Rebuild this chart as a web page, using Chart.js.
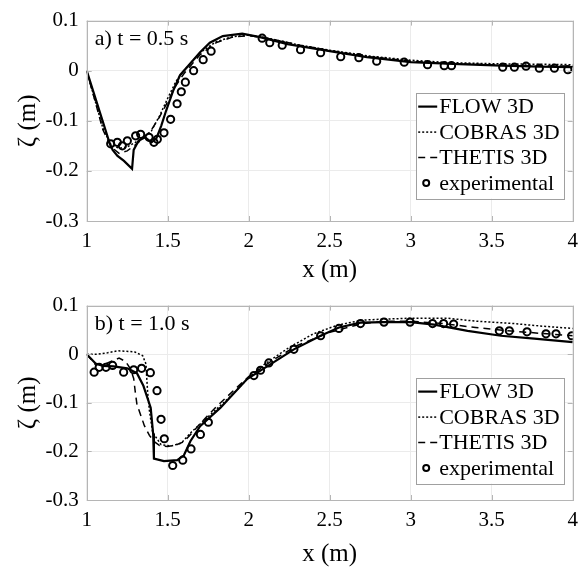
<!DOCTYPE html>
<html>
<head>
<meta charset="utf-8">
<script src="https://cdn.jsdelivr.net/npm/chart.js@4.4.0/dist/chart.umd.min.js"></script>
<style>
  html, body { margin: 0; padding: 0; background: #fff; }
  .panel { position: absolute; left: 0; width: 586px; }
</style>
</head>
<body>
<div class="panel" style="top:0;height:285px"><canvas id="chartA" width="586" height="285"></canvas></div>
<div class="panel" style="top:285px;height:284px"><canvas id="chartB" width="586" height="284"></canvas></div>
<script>
// ---- panel a) t = 0.5 s ----
const aFlowX = [1.00, 1.14, 1.16, 1.19, 1.23, 1.28, 1.29, 1.32, 1.36, 1.40, 1.43, 1.46, 1.49, 1.535, 1.576, 1.638, 1.70, 1.76, 1.84, 1.96, 2.07, 2.24, 2.50, 2.73, 3.00, 3.30, 3.56, 3.80, 4.00];
const aFlowY = [0.000, -0.143, -0.158, -0.170, -0.180, -0.196, -0.158, -0.140, -0.133, -0.143, -0.135, -0.110, -0.080, -0.039, -0.009, 0.014, 0.037, 0.056, 0.069, 0.074, 0.067, 0.053, 0.039, 0.027, 0.017, 0.013, 0.010, 0.008, 0.007];
const aCobrasX = [1.00, 1.10, 1.15, 1.20, 1.25, 1.30, 1.35, 1.40, 1.45, 1.50, 1.55, 1.60, 1.70, 1.80, 1.90, 2.00, 2.10, 2.30, 2.50, 2.75, 3.00, 3.25, 3.50, 3.75, 4.00];
const aCobrasY = [0.000, -0.115, -0.148, -0.155, -0.152, -0.143, -0.133, -0.120, -0.090, -0.055, -0.022, 0.000, 0.036, 0.058, 0.068, 0.071, 0.066, 0.052, 0.041, 0.029, 0.021, 0.016, 0.014, 0.013, 0.012];
const aThetisX = [1.00, 1.10, 1.15, 1.20, 1.25, 1.30, 1.35, 1.40, 1.45, 1.50, 1.55, 1.60, 1.70, 1.80, 1.90, 2.00, 2.10, 2.30, 2.50, 2.75, 3.00, 3.25, 3.50, 3.75, 4.00];
const aThetisY = [0.000, -0.118, -0.152, -0.165, -0.160, -0.148, -0.135, -0.118, -0.092, -0.062, -0.030, -0.006, 0.032, 0.056, 0.067, 0.070, 0.066, 0.052, 0.040, 0.028, 0.019, 0.014, 0.012, 0.010, 0.009];
const aExpX = [1.148, 1.189, 1.22, 1.251, 1.302, 1.333, 1.385, 1.415, 1.436, 1.477, 1.518, 1.558, 1.584, 1.609, 1.66, 1.719, 1.768, 2.083, 2.13, 2.207, 2.32, 2.444, 2.568, 2.68, 2.79, 2.96, 3.104, 3.207, 3.252, 3.568, 3.64, 3.712, 3.794, 3.887, 3.97];
const aExpY = [-0.146, -0.143, -0.150, -0.140, -0.130, -0.127, -0.133, -0.143, -0.137, -0.124, -0.097, -0.066, -0.042, -0.023, 0.000, 0.022, 0.039, 0.065, 0.056, 0.051, 0.042, 0.036, 0.028, 0.026, 0.019, 0.017, 0.012, 0.010, 0.010, 0.007, 0.007, 0.009, 0.005, 0.005, 0.002];

// ---- panel b) t = 1.0 s ----
const bFlowX = [1.00, 1.055, 1.10, 1.166, 1.25, 1.31, 1.35, 1.395, 1.41, 1.415, 1.477, 1.559, 1.60, 1.64, 1.70, 1.826, 1.99, 2.114, 2.279, 2.444, 2.557, 2.69, 2.835, 3.00, 3.145, 3.351, 3.557, 3.763, 4.00];
const bFlowY = [0.000, -0.019, -0.024, -0.025, -0.029, -0.039, -0.065, -0.110, -0.163, -0.215, -0.220, -0.218, -0.208, -0.179, -0.148, -0.110, -0.051, -0.025, 0.010, 0.038, 0.055, 0.065, 0.066, 0.066, 0.061, 0.048, 0.038, 0.032, 0.025];
const bCobrasX = [1.00, 1.067, 1.129, 1.19, 1.294, 1.345, 1.366, 1.37, 1.376, 1.387, 1.407, 1.459, 1.52, 1.583, 1.644, 1.706, 1.778, 1.90, 2.00, 2.10, 2.25, 2.40, 2.55, 2.70, 2.815, 3.00, 3.228, 3.40, 3.64, 3.80, 4.00];
const bCobrasY = [0.000, 0.000, 0.003, 0.007, 0.005, -0.003, -0.020, -0.045, -0.077, -0.116, -0.161, -0.186, -0.189, -0.183, -0.161, -0.142, -0.120, -0.083, -0.048, -0.020, 0.014, 0.042, 0.060, 0.070, 0.072, 0.074, 0.074, 0.068, 0.063, 0.058, 0.053];
const bThetisX = [1.00, 1.05, 1.10, 1.15, 1.20, 1.24, 1.27, 1.29, 1.30, 1.31, 1.335, 1.356, 1.387, 1.417, 1.45, 1.50, 1.55, 1.60, 1.65, 1.70, 1.80, 1.90, 2.00, 2.15, 2.30, 2.50, 2.70, 2.85, 3.00, 3.20, 3.40, 3.60, 3.80, 4.00];
const bThetisY = [0.000, -0.020, -0.022, -0.015, -0.008, -0.015, -0.030, -0.050, -0.078, -0.103, -0.127, -0.147, -0.167, -0.180, -0.188, -0.190, -0.187, -0.180, -0.162, -0.143, -0.108, -0.077, -0.046, -0.012, 0.018, 0.045, 0.063, 0.068, 0.068, 0.063, 0.055, 0.048, 0.043, 0.038];
const bExpX = [1.046, 1.077, 1.119, 1.16, 1.228, 1.29, 1.339, 1.393, 1.434, 1.459, 1.479, 1.531, 1.593, 1.644, 1.702, 1.751, 2.032, 2.073, 2.124, 2.279, 2.444, 2.557, 2.69, 2.835, 2.996, 3.135, 3.203, 3.265, 3.547, 3.609, 3.718, 3.835, 3.897, 3.994];
const bExpY = [-0.037, -0.027, -0.027, -0.023, -0.037, -0.032, -0.029, -0.038, -0.075, -0.134, -0.174, -0.229, -0.218, -0.195, -0.165, -0.140, -0.044, -0.033, -0.018, 0.010, 0.038, 0.053, 0.063, 0.066, 0.066, 0.063, 0.063, 0.062, 0.048, 0.048, 0.046, 0.042, 0.042, 0.038];

const seriesNames = ['FLOW 3D', 'COBRAS 3D', 'THETIS 3D', 'experimental'];
const xTicks = [1, 1.5, 2, 2.5, 3, 3.5, 4];
const yTicks = [-0.3, -0.2, -0.1, 0, 0.1];

const FONT = '"Liberation Serif", "Times New Roman", serif';

function pairs(xs, ys) {
  return xs.map((x, i) => ({ x: x, y: ys[i] }));
}

// frame, inward ticks, panel label and an in-axes legend (MATLAB look)
const decorPlugin = {
  id: 'decor',
  afterDraw(chart, args, opts) {
    const ctx = chart.ctx;
    const a = chart.chartArea;
    const sx = chart.scales.x, sy = chart.scales.y;
    ctx.save();
    ctx.strokeStyle = '#b5b5b5';
    ctx.lineWidth = 1;
    ctx.strokeRect(Math.round(a.left) + 0.5, Math.round(a.top) + 0.5,
                   Math.round(a.right - a.left), Math.round(a.bottom - a.top));
    ctx.beginPath();
    xTicks.forEach(v => {
      const p = Math.round(sx.getPixelForValue(v)) + 0.5;
      ctx.moveTo(p, a.bottom); ctx.lineTo(p, a.bottom - 5);
      ctx.moveTo(p, a.top); ctx.lineTo(p, a.top + 5);
    });
    yTicks.forEach(v => {
      const p = Math.round(sy.getPixelForValue(v)) + 0.5;
      ctx.moveTo(a.left, p); ctx.lineTo(a.left + 5, p);
      ctx.moveTo(a.right, p); ctx.lineTo(a.right - 5, p);
    });
    ctx.stroke();

    // panel label
    ctx.fillStyle = '#000';
    ctx.font = '22px ' + FONT;
    ctx.textBaseline = 'middle';
    ctx.textAlign = 'left';
    ctx.fillText(opts.note, a.left + 8, a.top + 19);

    // legend box
    const bw = 148, bh = 106;
    const bx = a.right - 8.5 - bw, by = a.top + 72;
    ctx.fillStyle = '#fff';
    ctx.fillRect(bx, by, bw, bh);
    ctx.strokeStyle = '#a0a0a0';
    ctx.strokeRect(Math.round(bx) + 0.5, Math.round(by) + 0.5, bw, bh);
    ctx.font = '22px ' + FONT;
    chart.data.datasets.forEach((ds, i) => {
      const cy = by + 14 + i * 25.5;
      ctx.strokeStyle = '#000';
      if (ds.showLine === false) {
        ctx.setLineDash([]);
        ctx.lineWidth = 2;
        ctx.beginPath();
        ctx.arc(bx + 10, cy, 3, 0, Math.PI * 2);
        ctx.stroke();
      } else {
        ctx.setLineDash(ds.borderDash || []);
        ctx.lineWidth = ds.borderWidth;
        ctx.beginPath();
        ctx.moveTo(bx + 2, cy); ctx.lineTo(bx + 21, cy);
        ctx.stroke();
      }
      ctx.setLineDash([]);
      ctx.fillStyle = '#000';
      ctx.fillText(ds.label, bx + 23, cy + 1);
    });
    ctx.restore();
  }
};

function buildChart(id, d, cfg) {
  const ctx = document.getElementById(id);
  return new Chart(ctx, {
    type: 'line',
    data: {
      datasets: [
        { label: seriesNames[0], data: pairs(d.flowX, d.flowY), borderColor: '#000', borderWidth: 2.2, pointRadius: 0 },
        { label: seriesNames[1], data: pairs(d.cobrasX, d.cobrasY), borderColor: '#000', borderWidth: 1.5, borderDash: [2, 2], pointRadius: 0 },
        { label: seriesNames[2], data: pairs(d.thetisX, d.thetisY), borderColor: '#000', borderWidth: 1.5, borderDash: [7, 5], pointRadius: 0 },
        { label: seriesNames[3], data: pairs(d.expX, d.expY), showLine: false, borderColor: '#000',
          pointRadius: 3.6, pointBorderWidth: 2, pointBackgroundColor: 'rgba(0,0,0,0)', pointStyle: 'circle' }
      ]
    },
    options: {
      responsive: false,
      animation: false,
      layout: { padding: { top: cfg.top, right: 13.3, left: 0, bottom: 0 } },
      plugins: {
        legend: { display: false },
        tooltip: { enabled: false },
        decor: { note: cfg.note }
      },
      scales: {
        x: {
          type: 'linear', min: 1, max: 4,
          afterBuildTicks: (axis) => { axis.ticks = xTicks.map(v => ({ value: v })); },
          afterFit: (scale) => { scale.height = cfg.xAxisH; },
          ticks: { color: '#000', padding: 8, font: { family: FONT, size: 21 },
                   callback: v => String(Math.round(v * 10) / 10) },
          grid: { color: '#ebebeb', drawTicks: false },
          border: { display: false },
          title: { display: true, text: 'x (m)', color: '#000', font: { family: FONT, size: 25 },
                   padding: { top: cfg.xTitlePad, bottom: 0 } }
        },
        y: {
          type: 'linear', min: -0.3, max: 0.1,
          afterBuildTicks: (axis) => { axis.ticks = yTicks.map(v => ({ value: v })); },
          afterFit: (scale) => { scale.width = 86.7; },
          ticks: { color: '#000', padding: 8, font: { family: FONT, size: 21 },
                   callback: v => String(Math.round(v * 10) / 10) },
          grid: { color: '#ebebeb', drawTicks: false },
          border: { display: false },
          title: { display: true, text: 'ζ (m)', color: '#000', font: { family: FONT, size: 25 },
                   padding: { top: 13, bottom: 0 } }
        }
      }
    },
    plugins: [decorPlugin]
  });
}

buildChart('chartA', {
  flowX: aFlowX, flowY: aFlowY, cobrasX: aCobrasX, cobrasY: aCobrasY,
  thetisX: aThetisX, thetisY: aThetisY, expX: aExpX, expY: aExpY
}, { top: 16, xAxisH: 64, xTitlePad: 0, note: 'a) t = 0.5 s' });

buildChart('chartB', {
  flowX: bFlowX, flowY: bFlowY, cobrasX: bCobrasX, cobrasY: bCobrasY,
  thetisX: bThetisX, thetisY: bThetisY, expX: bExpX, expY: bExpY
}, { top: 11, xAxisH: 69, xTitlePad: 5, note: 'b) t = 1.0 s' });
</script>
</body>
</html>
